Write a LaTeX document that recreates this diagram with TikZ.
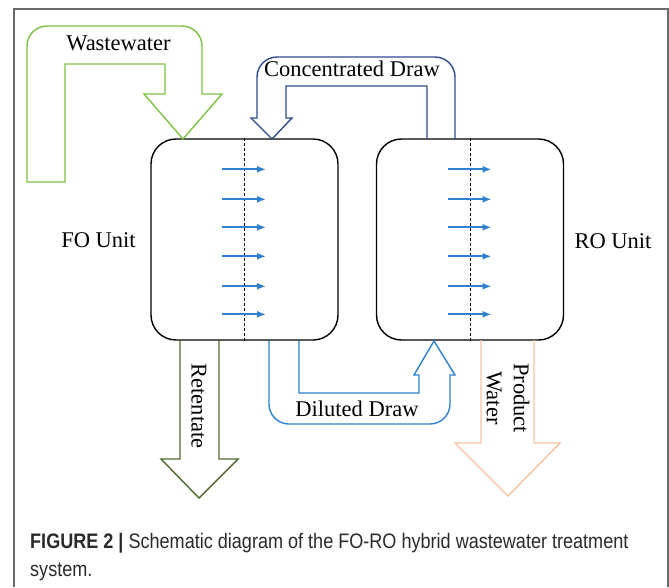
\documentclass[tikz,border=0pt]{standalone}
\usepackage{fontspec}
\setmainfont{Liberation Serif}
\newfontfamily\capfont[FakeStretch=0.86]{Liberation Sans}
\usetikzlibrary{arrows.meta,positioning,calc}
\definecolor{feedgreen}{HTML}{7DC144}
\definecolor{drawnavy}{HTML}{2D4C8E}
\definecolor{fluxblue}{HTML}{2F80D0}
\definecolor{retgreen}{HTML}{4E6B2E}
\definecolor{prodpeach}{HTML}{F7C3A0}
\definecolor{framegray}{HTML}{6A6A6A}
\definecolor{capgray}{HTML}{2A2A2A}

\begin{document}
\begin{tikzpicture}[x=1pt,y=-1pt,
  unit/.style={draw,line width=1.4pt,rounded corners=25pt,minimum width=187pt,minimum height=201pt,inner sep=0pt},
  membrane/.style={line width=0.8pt,dash pattern=on 3pt off 2pt},
  flux/.style={-{Latex[length=9pt,width=7pt]},line width=1.7pt,fluxblue},
  block/.style={line width=1.4pt,line join=miter},
  lbl/.style={font=\fontsize{22.5}{27}\selectfont,inner sep=0pt},
  caption/.style={font=\capfont\fontsize{21}{27}\selectfont,text=capgray,inner sep=0pt}]

    \useasboundingbox (0,0) rectangle (669,587);
    \draw[framegray,line width=1.2pt] (14,587) -- (14,9) -- (668,9) -- (668,587);

    % the two units
    \node[unit] (fo) at (244.5,239.5) {};
    \node[unit] (ro) at (470,239.5) {};
    \draw[membrane] (fo.north) -- (fo.south);
    \draw[membrane] (ro.north) -- (ro.south);
    \foreach \y in {31,61,89,118,148,176} {
        \draw[flux] ($(fo.north)+(-22.5,\y)$) -- ($(fo.north)+(21.5,\y)$);
        \draw[flux] ($(ro.north)+(-22.5,\y)$) -- ($(ro.north)+(21.5,\y)$);
    }

    % block arrows
    \draw[block,feedgreen] (27,182) -- (27,46) arc[start angle=180,end angle=270,radius=20]
        -- (182,26) arc[start angle=270,end angle=360,radius=20] -- (202,94) -- (222,94)
        -- (183,139) -- (144,94) -- (165,94) -- (165,64) -- (65,64) -- (65,182) -- cycle;
    \draw[block,drawnavy] (427,139) -- (427,86) -- (286,86) -- (286,118) -- (292,118)
        -- (272,139) -- (251,118) -- (257,118) -- (257,77) arc[start angle=180,end angle=270,radius=20]
        -- (435,57) arc[start angle=270,end angle=360,radius=20] -- (455,139);
    \draw[block,retgreen] (180,341) -- (180,459) -- (161,459) -- (199,498) -- (238,459)
        -- (219,459) -- (219,341);
    \draw[block,fluxblue] (299,341) -- (299,393) -- (419,393) -- (419,375) -- (414,375)
        -- (434,341) -- (455,375) -- (450,375) -- (450,404) arc[start angle=0,end angle=90,radius=20]
        -- (289,424) arc[start angle=90,end angle=180,radius=20] -- (269,341);
    \draw[block,prodpeach] (481,340) -- (481,443) -- (455,443) -- (508,496) -- (560,443)
        -- (534,443) -- (534,340);

    % labels
    \node[lbl,anchor=base] (wwlbl) at (118.5,50) {Wastewater};
    \node[lbl,anchor=base] (cdlbl) at (352,76) {Concentrated Draw};
    \node[lbl,anchor=base] (ddlbl) at (357,416) {Diluted Draw};
    \node[lbl,anchor=base] (folbl) at (98.5,247) {FO Unit};
    \node[lbl,anchor=base] (rolbl) at (613,248) {RO Unit};
    \node[lbl,rotate=-90] (retlbl) at (199,406) {Retentate};
    \node[lbl,rotate=-90,align=center] (pwlbl) at (508,398) {Product\\Water};

    % caption
    \node[caption,anchor=base west] (cap1) at (30,548) {\textbf{FIGURE 2 |} Schematic diagram of the FO-RO hybrid wastewater treatment};
    \node[caption,anchor=base west] (cap2) at (30,576) {system.};
\end{tikzpicture}
\end{document}
